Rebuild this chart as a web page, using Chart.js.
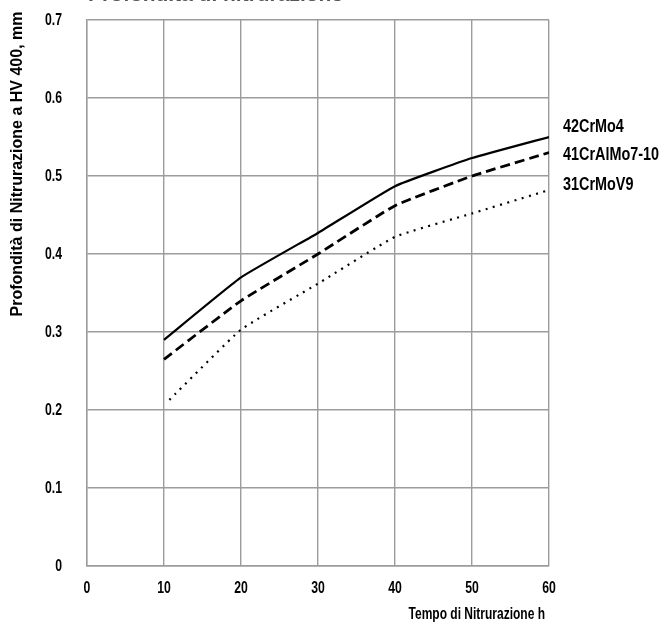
<!DOCTYPE html>
<html>
<head>
<meta charset="utf-8">
<script src="https://cdn.jsdelivr.net/npm/chart.js@4.4.1/dist/chart.umd.min.js"></script>
<style>
  html, body { margin: 0; padding: 0; background: #fff; }
  #wrap { width: 666px; height: 627px; }
</style>
</head>
<body>
<div id="wrap"><canvas id="nitrCanvas" width="666" height="627"></canvas></div>
<script>
// depth of nitriding (mm) against hours of nitriding
const hours42 = [10, 20, 30, 40, 50, 60];
const depth42CrMo4 = [0.29, 0.37, 0.427, 0.487, 0.523, 0.55];
const hours41 = [10, 20, 30, 40, 50, 60];
const depth41CrAlMo = [0.265, 0.34, 0.40, 0.462, 0.50, 0.53];
const hours31 = [10.7, 20, 30, 40, 50, 60];
const depth31CrMoV9 = [0.213, 0.303, 0.362, 0.422, 0.452, 0.482];

const seriesNames = ['42CrMo4', '41CrAlMo7-10', '31CrMoV9'];
const labelDepths = [0.563, 0.527, 0.489];
const yTicks = [0, 0.1, 0.2, 0.3, 0.4, 0.5, 0.6, 0.7];
const xTicks = [0, 10, 20, 30, 40, 50, 60];
const xTitle = 'Tempo di Nitrurazione h';
const yTitle = 'Profondità di Nitrurazione a HV 400, mm';
const topTitle = 'Profondità di nitrurazione';

const sans = '"Liberation Sans", Arial, sans-serif';

function toPoints(xs, ys) {
    return xs.map((x, i) => ({ x: x, y: ys[i] }));
}

// no narrow font installed, so condense the text by hand
function narrowText(ctx, text, x, y, align, squeeze) {
    ctx.save();
    ctx.translate(x, y);
    ctx.scale(squeeze, 1);
    ctx.textAlign = align;
    ctx.fillText(text, 0, 0);
    ctx.restore();
}

const textLayer = {
    id: 'textLayer',
    afterDraw(chart) {
        const ctx = chart.ctx;
        const xs = chart.scales.x, ys = chart.scales.y;
        ctx.save();
        ctx.fillStyle = '#000';
        ctx.textBaseline = 'middle';

        // tick labels
        ctx.font = 'bold 17px ' + sans;
        ys.ticks.forEach(t => {
            narrowText(ctx, String(Math.round(t.value * 10) / 10), 62, ys.getPixelForValue(t.value) + 0.5, 'right', 0.72);
        });
        xs.ticks.forEach(t => {
            narrowText(ctx, String(t.value), xs.getPixelForValue(t.value), 588, 'center', 0.72);
        });

        // series labels
        ctx.font = 'bold 18px ' + sans;
        for (let i = 0; i < seriesNames.length; i++) {
            narrowText(ctx, seriesNames[i], xs.right + 14, ys.getPixelForValue(labelDepths[i]), 'left', 0.8);
        }

        // x axis title
        ctx.font = 'bold 16px ' + sans;
        narrowText(ctx, xTitle, xs.right - 4, 615, 'right', 0.75);

        // y axis title
        ctx.save();
        ctx.font = 'bold 16px ' + sans;
        ctx.translate(18, 164);
        ctx.rotate(-Math.PI / 2);
        ctx.textAlign = 'center';
        ctx.fillText(yTitle, 0, 0);
        ctx.restore();

        // title above, cut by the top edge
        ctx.font = 'bold 18px ' + sans;
        ctx.fillStyle = '#555';
        ctx.textBaseline = 'alphabetic';
        const w = ctx.measureText(topTitle).width;
        narrowText(ctx, topTitle, xs.left + 1, 0.5, 'left', 255 / w);
        ctx.restore();
    }
};

const ctx = document.getElementById('nitrCanvas').getContext('2d');
new Chart(ctx, {
    type: 'scatter',
    data: {
        datasets: [
            {
                label: seriesNames[0],
                data: toPoints(hours42, depth42CrMo4),
                showLine: true,
                borderColor: '#000',
                borderWidth: 2.2,
                pointRadius: 0,
                tension: 0.12
            },
            {
                label: seriesNames[1],
                data: toPoints(hours41, depth41CrAlMo),
                showLine: true,
                borderColor: '#000',
                borderWidth: 2.8,
                borderDash: [10, 5],
                pointRadius: 0,
                tension: 0.12
            },
            {
                label: seriesNames[2],
                data: toPoints(hours31, depth31CrMoV9),
                showLine: true,
                borderColor: '#000',
                borderWidth: 2.2,
                borderDash: [2, 5.5],
                pointRadius: 0,
                tension: 0.12
            }
        ]
    },
    options: {
        responsive: false,
        animation: false,
        layout: { padding: { top: 20, right: 117, left: 0, bottom: 0 } },
        plugins: { legend: { display: false }, tooltip: { enabled: false } },
        scales: {
            x: {
                type: 'linear',
                min: 0, max: 60,
                afterBuildTicks: axis => { axis.ticks = xTicks.map(v => ({ value: v })); },
                afterFit: axis => { axis.height = 61; },
                grid: { color: '#9c9c9c', lineWidth: 1.4, drawTicks: false },
                border: { color: '#9c9c9c', width: 1.4 },
                ticks: { display: false }
            },
            y: {
                type: 'linear',
                min: 0, max: 0.7,
                afterBuildTicks: axis => { axis.ticks = yTicks.map(v => ({ value: v })); },
                afterFit: axis => { axis.width = 87; },
                grid: { color: '#9c9c9c', lineWidth: 1.4, drawTicks: false },
                border: { color: '#9c9c9c', width: 1.4 },
                ticks: { display: false }
            }
        }
    },
    plugins: [textLayer]
});
</script>
</body>
</html>
